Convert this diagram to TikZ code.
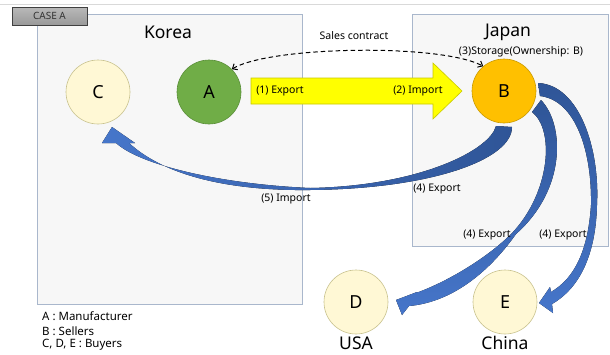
\documentclass[tikz,border=0pt]{standalone}
\usepackage{fontspec}
\setmainfont{Noto Sans}
\usetikzlibrary{arrows.meta}
\definecolor{boxfill}{HTML}{F7F7F7}
\definecolor{boxline}{HTML}{A9B7CC}
\definecolor{cream}{HTML}{FFF8D5}
\definecolor{creamline}{HTML}{C8C28E}
\definecolor{mfg}{HTML}{70AD47}
\definecolor{mfgline}{HTML}{5B8F3A}
\definecolor{seller}{HTML}{FFC000}
\definecolor{sellerline}{HTML}{C99A00}
\definecolor{flowlight}{HTML}{4676CA}
\definecolor{flowdark}{HTML}{2F5597}
\definecolor{shipfill}{HTML}{FFFF00}
\definecolor{shipline}{HTML}{C9C900}
\begin{document}
\begin{tikzpicture}[x=1pt,y=-1pt,
  country/.style={draw=boxline, fill=boxfill, line width=0.8pt},
  party/.style={circle, minimum size=64pt, inner sep=0pt, line width=0.6pt,
    font=\fontsize{18}{20}\selectfont},
  buyer/.style={party, fill=cream, draw=creamline},
  lbl/.style={font=\fontsize{10.5}{12}\selectfont, inner sep=0pt},
  title/.style={font=\fontsize{17.5}{20}\selectfont, inner sep=0pt},
  legend/.style={font=\fontsize{11.5}{13}\selectfont, inner sep=0pt, anchor=west},
  flow/.style={left color=flowlight, right color=flowdark},
  flowdown/.style={top color=flowdark, bottom color=flowlight},
]
\useasboundingbox (0,0) rectangle (610,354);
\fill[white] (0,0) rectangle (610,354);
\draw[gray!30, line width=0.8pt] (0,4) -- (610,4);

% country frames
\draw[country] (37,14) rectangle (302,304);
\draw[country] (412,14) rectangle (608,246);

% case tab
\node[draw=black!75, top color=gray!55, bottom color=gray!80, minimum width=75pt,
  minimum height=18pt, inner sep=0pt, font=\fontsize{10}{12}\selectfont,
  text=black!80] (caseA) at (49.5,16) {CASE A};

\node[title] (korea) at (168,32) {Korea};
\node[title] (japan) at (508,32) {Japan};

% shipment A -> B
\draw[fill=shipfill, draw=shipline, line width=0.6pt]
  (251,78) -- (433,78) -- (433,63) -- (462,91) -- (433,119) -- (433,104) -- (251,104) -- cycle;

% curved flows out of B
\fill[flow] (496,126) -- (512,127)
  .. controls (512,160) and (430,189) .. (310,190)
  .. controls (230,191) and (165,176) .. (129,143)
  -- (135,143) -- (112,127) -- (102,143) -- (116,143)
  .. controls (140,165) and (220,184) .. (310,188)
  .. controls (420,186) and (490,150) .. (496,126) -- cycle;

\fill[flowdown] (541,100)
  .. controls (565,125) and (566,190) .. (516,234)
  .. controls (492,268) and (455,302) .. (409,306)
  -- (402,315) -- (396,300) -- (417,292) -- (416,293)
  .. controls (452,280) and (492,254) .. (513,232)
  .. controls (550,192) and (555,130) .. (532,112) -- cycle;

\fill[flowdown] (538,83)
  .. controls (580,85) and (600,150) .. (597,205)
  .. controls (596,245) and (585,285) .. (552,304)
  -- (553,313) -- (539,303) -- (550,287) -- (551,292)
  .. controls (575,278) and (588,250) .. (591,205)
  .. controls (592,150) and (575,100) .. (540,96) -- cycle;

% parties
\node[buyer] (C) at (98,92) {C};
\node[party, fill=mfg, draw=mfgline] (A) at (209,92) {A};
\node[party, fill=seller, draw=sellerline] (B) at (504,91) {B};
\node[buyer] (D) at (356,302) {D};
\node[buyer] (E) at (505,302) {E};

% sales contract
\draw[line width=1pt, dash pattern=on 4.5pt off 3pt,
  {Straight Barb[length=4pt,width=7pt]}-{Straight Barb[length=4pt,width=7pt]}]
  (A.45) .. controls +(38,-23) and +(-43,-23) .. (B.130);

% labels
\node[lbl] (contract) at (354,36) {Sales contract};
\node[lbl] (storage) at (521,52) {(3)Storage(Ownership: B)};
\node[lbl] (ex1) at (280,91) {(1) Export};
\node[lbl] (im2) at (418,91) {(2) Import};
\node[lbl] (im5) at (286,199) {(5) Import};
\node[lbl] (ex4a) at (437,189) {(4) Export};
\node[lbl] (ex4b) at (487,235) {(4) Export};
\node[lbl] (ex4c) at (563,235) {(4) Export};

\node[title, anchor=base] (usa) at (356,349.5) {USA};
\node[title, anchor=base] (china) at (505,349.5) {China};

% legend
\node[legend] (legA) at (42,316) {A : Manufacturer};
\node[legend] (legB) at (42,331) {B : Sellers};
\node[legend] (legC) at (42,345) {C, D, E : Buyers};
\end{tikzpicture}
\end{document}
